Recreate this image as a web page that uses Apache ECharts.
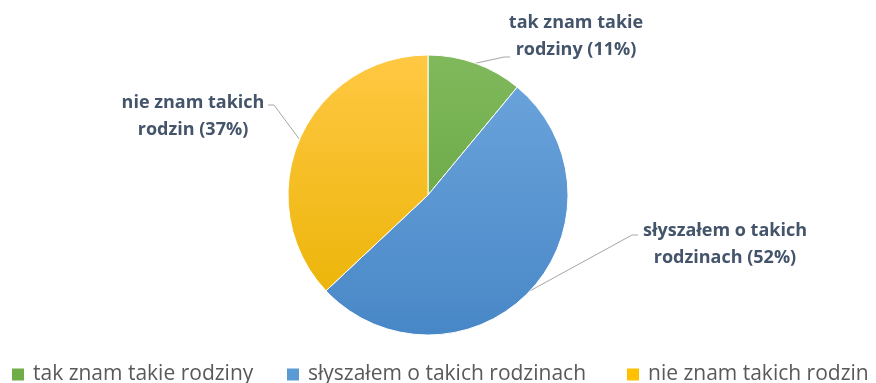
<!DOCTYPE html>
<html>
<head>
<meta charset="utf-8">
<script src="https://cdn.jsdelivr.net/npm/echarts@6/dist/echarts.min.js"></script>
<style>
  html, body { margin: 0; padding: 0; background: #ffffff; }
  #chart { width: 876px; height: 383px; }
</style>
</head>
<body>
<div id="chart"></div>
<script>
// Survey answers (percent of respondents)
const categories = ['tak znam takie rodziny', 'słyszałem o takich rodzinach', 'nie znam takich rodzin'];
const values = [11, 52, 37];

// Base colours (legend swatches) and slice gradients: light top -> darker bottom
const baseColors = ['#70AD47', '#5B9BD5', '#FFC000'];
const colorsTop = ['#80B95C', '#6EA6DD', '#FFC843'];
const colorsBottom = ['#5E9E38', '#4887C7', '#E9B200'];

// Label placement: block centre and where the leader line meets the text
const labelPlacement = [
  { x: 576, y: 36, endX: 510, endY: 57, elbowX: 504 },
  { x: 725, y: 244, endX: 638, endY: 235, elbowX: 632 },
  { x: 193, y: 116, endX: 268, endY: 105, elbowX: 274 }
];

const chart = echarts.init(document.getElementById('chart'), null, { renderer: 'canvas' });

const pieTop = 55, pieBottom = 335;
const data = categories.map((name, i) => ({
  name: name,
  value: values[i],
  itemStyle: {
    color: new echarts.graphic.LinearGradient(0, pieTop, 0, pieBottom, [
      { offset: 0, color: colorsTop[i] },
      { offset: 1, color: colorsBottom[i] }
    ], true)
  }
}));

function wrapLabel(name, value) {
  const words = name.split(' ');
  return words.slice(0, 3).join(' ') + '\n' + words.slice(3).join(' ') + ' (' + value + '%)';
}

const fontStack = '"Open Sans", Lato, sans-serif';
const legendLefts = [10, 285, 625];

chart.setOption({
  backgroundColor: '#ffffff',
  animation: false,
  legend: categories.map((name, i) => ({
    data: [{ name: name, itemStyle: { color: baseColors[i] } }],
    left: legendLefts[i],
    top: 364,
    padding: 0,
    icon: 'rect',
    itemWidth: 14,
    itemHeight: 14,
    selectedMode: false,
    textStyle: {
      fontFamily: fontStack,
      fontSize: 21,
      color: '#595959',
      padding: [0, 0, 0, 3]
    }
  })),
  series: [{
    type: 'pie',
    center: [428, 195],
    radius: 140,
    startAngle: 90,
    clockwise: true,
    avoidLabelOverlap: false,
    itemStyle: { borderColor: '#ffffff', borderWidth: 1 },
    label: {
      show: true,
      position: 'outside',
      formatter: p => wrapLabel(p.name, p.value),
      fontFamily: fontStack,
      fontSize: 18,
      fontWeight: 'bold',
      color: '#44546A',
      lineHeight: 27,
      align: 'center'
    },
    labelLine: {
      show: true,
      lineStyle: { color: '#A6A6A6', width: 1 }
    },
    labelLayout: function (params) {
      const p = labelPlacement[params.dataIndex];
      const start = params.labelLinePoints ? params.labelLinePoints[0] : null;
      const out = { x: p.x, y: p.y, align: 'center', verticalAlign: 'middle' };
      if (start) {
        out.labelLinePoints = [start, [p.elbowX, p.endY], [p.endX, p.endY]];
      }
      return out;
    },
    emphasis: { disabled: true },
    data: data
  }]
});
</script>
</body>
</html>
